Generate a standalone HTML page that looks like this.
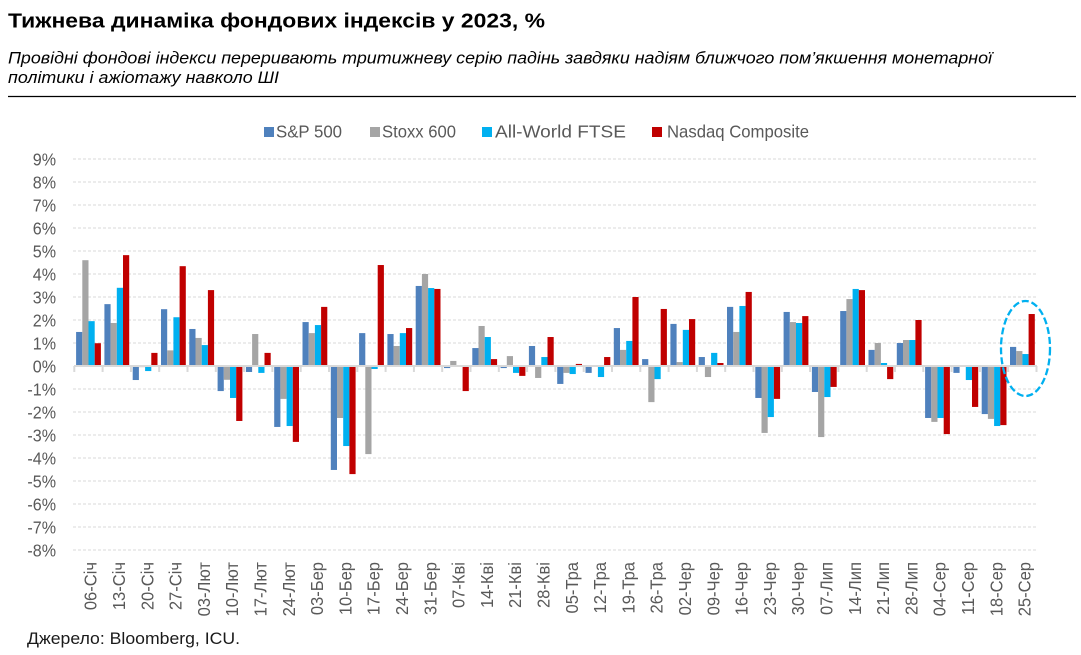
<!DOCTYPE html>
<html><head><meta charset="utf-8"><style>
html,body{margin:0;padding:0;background:#fff;}
svg{display:block;}
.a{fill:#4f81bd}.b{fill:#a5a5a5}.c{fill:#00b0f0}.d{fill:#c00000}
.t{font-family:"Liberation Sans","Noto Sans CJK SC",sans-serif;}
.yl{font-family:"Liberation Sans",sans-serif;font-size:17.5px;fill:#595959;text-anchor:end;}
.xl{font-family:"Liberation Sans","Noto Sans CJK SC",sans-serif;font-size:18px;fill:#595959;text-anchor:end;}
.g{stroke:#d9d9d9;stroke-width:1;stroke-dasharray:3,2;}
</style></head><body>
<svg width="1081" height="655" viewBox="0 0 1081 655" xmlns="http://www.w3.org/2000/svg">
<rect width="1081" height="655" fill="#fff"/>
<text class="t" x="8" y="27.5" font-size="20" font-weight="bold" fill="#000" textLength="537" lengthAdjust="spacingAndGlyphs">Тижнева динаміка фондових індексів у 2023, %</text>
<text class="t" x="8" y="63.3" font-size="17" font-style="italic" fill="#000" textLength="984" lengthAdjust="spacingAndGlyphs">Провідні фондові індекси переривають тритижневу серію падінь завдяки надіям ближчого пом’якшення монетарної</text>
<text class="t" x="8" y="83" font-size="17" font-style="italic" fill="#000" textLength="271" lengthAdjust="spacingAndGlyphs">політики і ажіотажу навколо ШІ</text>
<line x1="8" y1="96.5" x2="1076" y2="96.5" stroke="#000" stroke-width="1.3"/>

<!-- legend -->
<rect x="264" y="127" width="10" height="10" class="a"/>
<text class="t" x="276" y="137.7" font-size="17.5" fill="#595959" textLength="66" lengthAdjust="spacingAndGlyphs">S&amp;P 500</text>
<rect x="370" y="127" width="10" height="10" class="b"/>
<text class="t" x="382" y="137.7" font-size="17.5" fill="#595959" textLength="74" lengthAdjust="spacingAndGlyphs">Stoxx 600</text>
<rect x="482" y="127" width="10" height="10" class="c"/>
<text class="t" x="495" y="137.7" font-size="17.5" fill="#595959" textLength="131" lengthAdjust="spacingAndGlyphs">All-World FTSE</text>
<rect x="652" y="127" width="10" height="10" class="d"/>
<text class="t" x="667" y="137.7" font-size="17.5" fill="#595959" textLength="142" lengthAdjust="spacingAndGlyphs">Nasdaq Composite</text>

<!-- gridlines -->
<g class="g">
<line x1="73" y1="159" x2="1036.5" y2="159"/>
<line x1="73" y1="182" x2="1036.5" y2="182"/>
<line x1="73" y1="205" x2="1036.5" y2="205"/>
<line x1="73" y1="228" x2="1036.5" y2="228"/>
<line x1="73" y1="251" x2="1036.5" y2="251"/>
<line x1="73" y1="274" x2="1036.5" y2="274"/>
<line x1="73" y1="297" x2="1036.5" y2="297"/>
<line x1="73" y1="320" x2="1036.5" y2="320"/>
<line x1="73" y1="343" x2="1036.5" y2="343"/>
<line x1="73" y1="389" x2="1036.5" y2="389"/>
<line x1="73" y1="412" x2="1036.5" y2="412"/>
<line x1="73" y1="435" x2="1036.5" y2="435"/>
<line x1="73" y1="458" x2="1036.5" y2="458"/>
<line x1="73" y1="481" x2="1036.5" y2="481"/>
<line x1="73" y1="504" x2="1036.5" y2="504"/>
<line x1="73" y1="527" x2="1036.5" y2="527"/>
<line x1="73" y1="550" x2="1036.5" y2="550"/>
</g>

<!-- y labels -->
<g transform="translate(56,0) scale(0.92,1)">
<text class="yl" x="0" y="165.5">9%</text>
<text class="yl" x="0" y="188.5">8%</text>
<text class="yl" x="0" y="211.5">7%</text>
<text class="yl" x="0" y="234.5">6%</text>
<text class="yl" x="0" y="257.5">5%</text>
<text class="yl" x="0" y="280.5">4%</text>
<text class="yl" x="0" y="303.5">3%</text>
<text class="yl" x="0" y="326.5">2%</text>
<text class="yl" x="0" y="349.5">1%</text>
<text class="yl" x="0" y="372.5">0%</text>
<text class="yl" x="0" y="395.5">-1%</text>
<text class="yl" x="0" y="418.5">-2%</text>
<text class="yl" x="0" y="441.5">-3%</text>
<text class="yl" x="0" y="464.5">-4%</text>
<text class="yl" x="0" y="487.5">-5%</text>
<text class="yl" x="0" y="510.5">-6%</text>
<text class="yl" x="0" y="533.5">-7%</text>
<text class="yl" x="0" y="556.5">-8%</text>
</g>

<!-- bars -->
<g transform="translate(74.3,366) scale(1,-23)"><rect class="a" x="1.8" y="0" width="6.2" height="1.48"/><rect class="b" x="8" y="0" width="6.2" height="4.60"/><rect class="c" x="14.2" y="0" width="6.2" height="1.95"/><rect class="d" x="20.4" y="0" width="6.2" height="0.99"/></g>
<g transform="translate(102.6,366) scale(1,-23)"><rect class="a" x="1.8" y="0" width="6.2" height="2.69"/><rect class="b" x="8" y="0" width="6.2" height="1.87"/><rect class="c" x="14.2" y="0" width="6.2" height="3.40"/><rect class="d" x="20.4" y="0" width="6.2" height="4.82"/></g>
<g transform="translate(130.9,366) scale(1,-23)"><rect class="a" x="1.8" y="-0.61" width="6.2" height="0.61"/><rect class="b" x="8" y="-0.05" width="6.2" height="0.05"/><rect class="c" x="14.2" y="-0.22" width="6.2" height="0.22"/><rect class="d" x="20.4" y="0" width="6.2" height="0.57"/></g>
<g transform="translate(159.2,366) scale(1,-23)"><rect class="a" x="1.8" y="0" width="6.2" height="2.47"/><rect class="b" x="8" y="0" width="6.2" height="0.68"/><rect class="c" x="14.2" y="0" width="6.2" height="2.12"/><rect class="d" x="20.4" y="0" width="6.2" height="4.34"/></g>
<g transform="translate(187.5,366) scale(1,-23)"><rect class="a" x="1.8" y="0" width="6.2" height="1.61"/><rect class="b" x="8" y="0" width="6.2" height="1.22"/><rect class="c" x="14.2" y="0" width="6.2" height="0.91"/><rect class="d" x="20.4" y="0" width="6.2" height="3.30"/></g>
<g transform="translate(215.8,366) scale(1,-23)"><rect class="a" x="1.8" y="-1.09" width="6.2" height="1.09"/><rect class="b" x="8" y="-0.60" width="6.2" height="0.60"/><rect class="c" x="14.2" y="-1.39" width="6.2" height="1.39"/><rect class="d" x="20.4" y="-2.39" width="6.2" height="2.39"/></g>
<g transform="translate(244.1,366) scale(1,-23)"><rect class="a" x="1.8" y="-0.26" width="6.2" height="0.26"/><rect class="b" x="8" y="0" width="6.2" height="1.39"/><rect class="c" x="14.2" y="-0.30" width="6.2" height="0.30"/><rect class="d" x="20.4" y="0" width="6.2" height="0.57"/></g>
<g transform="translate(272.4,366) scale(1,-23)"><rect class="a" x="1.8" y="-2.65" width="6.2" height="2.65"/><rect class="b" x="8" y="-1.43" width="6.2" height="1.43"/><rect class="c" x="14.2" y="-2.61" width="6.2" height="2.61"/><rect class="d" x="20.4" y="-3.30" width="6.2" height="3.30"/></g>
<g transform="translate(300.7,366) scale(1,-23)"><rect class="a" x="1.8" y="0" width="6.2" height="1.91"/><rect class="b" x="8" y="0" width="6.2" height="1.43"/><rect class="c" x="14.2" y="0" width="6.2" height="1.78"/><rect class="d" x="20.4" y="0" width="6.2" height="2.57"/></g>
<g transform="translate(329,366) scale(1,-23)"><rect class="a" x="1.8" y="-4.52" width="6.2" height="4.52"/><rect class="b" x="8" y="-2.26" width="6.2" height="2.26"/><rect class="c" x="14.2" y="-3.48" width="6.2" height="3.48"/><rect class="d" x="20.4" y="-4.70" width="6.2" height="4.70"/></g>
<g transform="translate(357.3,366) scale(1,-23)"><rect class="a" x="1.8" y="0" width="6.2" height="1.43"/><rect class="b" x="8" y="-3.83" width="6.2" height="3.83"/><rect class="c" x="14.2" y="-0.13" width="6.2" height="0.13"/><rect class="d" x="20.4" y="0" width="6.2" height="4.39"/></g>
<g transform="translate(385.6,366) scale(1,-23)"><rect class="a" x="1.8" y="0" width="6.2" height="1.39"/><rect class="b" x="8" y="0" width="6.2" height="0.87"/><rect class="c" x="14.2" y="0" width="6.2" height="1.43"/><rect class="d" x="20.4" y="0" width="6.2" height="1.65"/></g>
<g transform="translate(413.9,366) scale(1,-23)"><rect class="a" x="1.8" y="0" width="6.2" height="3.48"/><rect class="b" x="8" y="0" width="6.2" height="4.00"/><rect class="c" x="14.2" y="0" width="6.2" height="3.39"/><rect class="d" x="20.4" y="0" width="6.2" height="3.35"/></g>
<g transform="translate(442.2,366) scale(1,-23)"><rect class="a" x="1.8" y="-0.09" width="6.2" height="0.09"/><rect class="b" x="8" y="0" width="6.2" height="0.22"/><rect class="c" x="14.2" y="-0.03" width="6.2" height="0.03"/><rect class="d" x="20.4" y="-1.09" width="6.2" height="1.09"/></g>
<g transform="translate(470.5,366) scale(1,-23)"><rect class="a" x="1.8" y="0" width="6.2" height="0.78"/><rect class="b" x="8" y="0" width="6.2" height="1.74"/><rect class="c" x="14.2" y="0" width="6.2" height="1.26"/><rect class="d" x="20.4" y="0" width="6.2" height="0.30"/></g>
<g transform="translate(498.8,366) scale(1,-23)"><rect class="a" x="1.8" y="-0.09" width="6.2" height="0.09"/><rect class="b" x="8" y="0" width="6.2" height="0.43"/><rect class="c" x="14.2" y="-0.30" width="6.2" height="0.30"/><rect class="d" x="20.4" y="-0.43" width="6.2" height="0.43"/></g>
<g transform="translate(527.1,366) scale(1,-23)"><rect class="a" x="1.8" y="0" width="6.2" height="0.87"/><rect class="b" x="8" y="-0.52" width="6.2" height="0.52"/><rect class="c" x="14.2" y="0" width="6.2" height="0.39"/><rect class="d" x="20.4" y="0" width="6.2" height="1.26"/></g>
<g transform="translate(555.4,366) scale(1,-23)"><rect class="a" x="1.8" y="-0.78" width="6.2" height="0.78"/><rect class="b" x="8" y="-0.30" width="6.2" height="0.30"/><rect class="c" x="14.2" y="-0.35" width="6.2" height="0.35"/><rect class="d" x="20.4" y="0" width="6.2" height="0.09"/></g>
<g transform="translate(583.7,366) scale(1,-23)"><rect class="a" x="1.8" y="-0.30" width="6.2" height="0.30"/><rect class="b" x="8" y="0" width="6.2" height="0.02"/><rect class="c" x="14.2" y="-0.48" width="6.2" height="0.48"/><rect class="d" x="20.4" y="0" width="6.2" height="0.39"/></g>
<g transform="translate(612,366) scale(1,-23)"><rect class="a" x="1.8" y="0" width="6.2" height="1.65"/><rect class="b" x="8" y="0" width="6.2" height="0.70"/><rect class="c" x="14.2" y="0" width="6.2" height="1.09"/><rect class="d" x="20.4" y="0" width="6.2" height="3.00"/></g>
<g transform="translate(640.3,366) scale(1,-23)"><rect class="a" x="1.8" y="0" width="6.2" height="0.30"/><rect class="b" x="8" y="-1.57" width="6.2" height="1.57"/><rect class="c" x="14.2" y="-0.57" width="6.2" height="0.57"/><rect class="d" x="20.4" y="0" width="6.2" height="2.48"/></g>
<g transform="translate(668.6,366) scale(1,-23)"><rect class="a" x="1.8" y="0" width="6.2" height="1.83"/><rect class="b" x="8" y="0" width="6.2" height="0.17"/><rect class="c" x="14.2" y="0" width="6.2" height="1.57"/><rect class="d" x="20.4" y="0" width="6.2" height="2.04"/></g>
<g transform="translate(696.9,366) scale(1,-23)"><rect class="a" x="1.8" y="0" width="6.2" height="0.39"/><rect class="b" x="8" y="-0.48" width="6.2" height="0.48"/><rect class="c" x="14.2" y="0" width="6.2" height="0.57"/><rect class="d" x="20.4" y="0" width="6.2" height="0.13"/></g>
<g transform="translate(725.2,366) scale(1,-23)"><rect class="a" x="1.8" y="0" width="6.2" height="2.57"/><rect class="b" x="8" y="0" width="6.2" height="1.48"/><rect class="c" x="14.2" y="0" width="6.2" height="2.61"/><rect class="d" x="20.4" y="0" width="6.2" height="3.22"/></g>
<g transform="translate(753.5,366) scale(1,-23)"><rect class="a" x="1.8" y="-1.39" width="6.2" height="1.39"/><rect class="b" x="8" y="-2.91" width="6.2" height="2.91"/><rect class="c" x="14.2" y="-2.22" width="6.2" height="2.22"/><rect class="d" x="20.4" y="-1.43" width="6.2" height="1.43"/></g>
<g transform="translate(781.8,366) scale(1,-23)"><rect class="a" x="1.8" y="0" width="6.2" height="2.35"/><rect class="b" x="8" y="0" width="6.2" height="1.91"/><rect class="c" x="14.2" y="0" width="6.2" height="1.87"/><rect class="d" x="20.4" y="0" width="6.2" height="2.17"/></g>
<g transform="translate(810.1,366) scale(1,-23)"><rect class="a" x="1.8" y="-1.13" width="6.2" height="1.13"/><rect class="b" x="8" y="-3.09" width="6.2" height="3.09"/><rect class="c" x="14.2" y="-1.35" width="6.2" height="1.35"/><rect class="d" x="20.4" y="-0.91" width="6.2" height="0.91"/></g>
<g transform="translate(838.4,366) scale(1,-23)"><rect class="a" x="1.8" y="0" width="6.2" height="2.39"/><rect class="b" x="8" y="0" width="6.2" height="2.91"/><rect class="c" x="14.2" y="0" width="6.2" height="3.35"/><rect class="d" x="20.4" y="0" width="6.2" height="3.30"/></g>
<g transform="translate(866.7,366) scale(1,-23)"><rect class="a" x="1.8" y="0" width="6.2" height="0.70"/><rect class="b" x="8" y="0" width="6.2" height="1.00"/><rect class="c" x="14.2" y="0" width="6.2" height="0.13"/><rect class="d" x="20.4" y="-0.57" width="6.2" height="0.57"/></g>
<g transform="translate(895,366) scale(1,-23)"><rect class="a" x="1.8" y="0" width="6.2" height="1.00"/><rect class="b" x="8" y="0" width="6.2" height="1.13"/><rect class="c" x="14.2" y="0" width="6.2" height="1.13"/><rect class="d" x="20.4" y="0" width="6.2" height="2.00"/></g>
<g transform="translate(923.3,366) scale(1,-23)"><rect class="a" x="1.8" y="-2.26" width="6.2" height="2.26"/><rect class="b" x="8" y="-2.43" width="6.2" height="2.43"/><rect class="c" x="14.2" y="-2.26" width="6.2" height="2.26"/><rect class="d" x="20.4" y="-2.96" width="6.2" height="2.96"/></g>
<g transform="translate(951.6,366) scale(1,-23)"><rect class="a" x="1.8" y="-0.30" width="6.2" height="0.30"/><rect class="b" x="8" y="0" width="6.2" height="0.01"/><rect class="c" x="14.2" y="-0.61" width="6.2" height="0.61"/><rect class="d" x="20.4" y="-1.78" width="6.2" height="1.78"/></g>
<g transform="translate(979.9,366) scale(1,-23)"><rect class="a" x="1.8" y="-2.09" width="6.2" height="2.09"/><rect class="b" x="8" y="-2.30" width="6.2" height="2.30"/><rect class="c" x="14.2" y="-2.61" width="6.2" height="2.61"/><rect class="d" x="20.4" y="-2.57" width="6.2" height="2.57"/></g>
<g transform="translate(1008.2,366) scale(1,-23)"><rect class="a" x="1.8" y="0" width="6.2" height="0.83"/><rect class="b" x="8" y="0" width="6.2" height="0.65"/><rect class="c" x="14.2" y="0" width="6.2" height="0.52"/><rect class="d" x="20.4" y="0" width="6.2" height="2.26"/></g>

<!-- axis -->
<line x1="74" y1="366" x2="1037" y2="366" stroke="#d9d9d9" stroke-width="2"/>
<g stroke="#d9d9d9" stroke-width="2">
<line x1="74.3" y1="366" x2="74.3" y2="372"/><line x1="102.6" y1="366" x2="102.6" y2="372"/><line x1="130.9" y1="366" x2="130.9" y2="372"/><line x1="159.2" y1="366" x2="159.2" y2="372"/><line x1="187.5" y1="366" x2="187.5" y2="372"/><line x1="215.8" y1="366" x2="215.8" y2="372"/><line x1="244.1" y1="366" x2="244.1" y2="372"/><line x1="272.4" y1="366" x2="272.4" y2="372"/><line x1="300.7" y1="366" x2="300.7" y2="372"/><line x1="329" y1="366" x2="329" y2="372"/><line x1="357.3" y1="366" x2="357.3" y2="372"/><line x1="385.6" y1="366" x2="385.6" y2="372"/><line x1="413.9" y1="366" x2="413.9" y2="372"/><line x1="442.2" y1="366" x2="442.2" y2="372"/><line x1="470.5" y1="366" x2="470.5" y2="372"/><line x1="498.8" y1="366" x2="498.8" y2="372"/><line x1="527.1" y1="366" x2="527.1" y2="372"/><line x1="555.4" y1="366" x2="555.4" y2="372"/><line x1="583.7" y1="366" x2="583.7" y2="372"/><line x1="612" y1="366" x2="612" y2="372"/><line x1="640.3" y1="366" x2="640.3" y2="372"/><line x1="668.6" y1="366" x2="668.6" y2="372"/><line x1="696.9" y1="366" x2="696.9" y2="372"/><line x1="725.2" y1="366" x2="725.2" y2="372"/><line x1="753.5" y1="366" x2="753.5" y2="372"/><line x1="781.8" y1="366" x2="781.8" y2="372"/><line x1="810.1" y1="366" x2="810.1" y2="372"/><line x1="838.4" y1="366" x2="838.4" y2="372"/><line x1="866.7" y1="366" x2="866.7" y2="372"/><line x1="895" y1="366" x2="895" y2="372"/><line x1="923.3" y1="366" x2="923.3" y2="372"/><line x1="951.6" y1="366" x2="951.6" y2="372"/><line x1="979.9" y1="366" x2="979.9" y2="372"/><line x1="1008.2" y1="366" x2="1008.2" y2="372"/><line x1="1036.5" y1="366" x2="1036.5" y2="372"/>
</g>

<!-- highlight ellipse -->
<ellipse cx="1025.5" cy="348.5" rx="24.5" ry="47.5" fill="none" stroke="#00b0f0" stroke-width="2.3" stroke-dasharray="7,3"/>

<!-- x labels -->
<text class="xl" transform="translate(96.7,562) rotate(-90) scale(0.92,1)">06-Січ</text>
<text class="xl" transform="translate(125,562) rotate(-90) scale(0.92,1)">13-Січ</text>
<text class="xl" transform="translate(153.3,562) rotate(-90) scale(0.92,1)">20-Січ</text>
<text class="xl" transform="translate(181.6,562) rotate(-90) scale(0.92,1)">27-Січ</text>
<text class="xl" transform="translate(209.9,562) rotate(-90) scale(0.92,1)">03-Лют</text>
<text class="xl" transform="translate(238.2,562) rotate(-90) scale(0.92,1)">10-Лют</text>
<text class="xl" transform="translate(266.5,562) rotate(-90) scale(0.92,1)">17-Лют</text>
<text class="xl" transform="translate(294.8,562) rotate(-90) scale(0.92,1)">24-Лют</text>
<text class="xl" transform="translate(323.1,562) rotate(-90) scale(0.92,1)">03-Бер</text>
<text class="xl" transform="translate(351.4,562) rotate(-90) scale(0.92,1)">10-Бер</text>
<text class="xl" transform="translate(379.7,562) rotate(-90) scale(0.92,1)">17-Бер</text>
<text class="xl" transform="translate(408,562) rotate(-90) scale(0.92,1)">24-Бер</text>
<text class="xl" transform="translate(436.3,562) rotate(-90) scale(0.92,1)">31-Бер</text>
<text class="xl" transform="translate(464.6,562) rotate(-90) scale(0.92,1)">07-Кві</text>
<text class="xl" transform="translate(492.9,562) rotate(-90) scale(0.92,1)">14-Кві</text>
<text class="xl" transform="translate(521.2,562) rotate(-90) scale(0.92,1)">21-Кві</text>
<text class="xl" transform="translate(549.5,562) rotate(-90) scale(0.92,1)">28-Кві</text>
<text class="xl" transform="translate(577.8,562) rotate(-90) scale(0.92,1)">05-Тра</text>
<text class="xl" transform="translate(606.1,562) rotate(-90) scale(0.92,1)">12-Тра</text>
<text class="xl" transform="translate(634.4,562) rotate(-90) scale(0.92,1)">19-Тра</text>
<text class="xl" transform="translate(662.7,562) rotate(-90) scale(0.92,1)">26-Тра</text>
<text class="xl" transform="translate(691,562) rotate(-90) scale(0.92,1)">02-Чер</text>
<text class="xl" transform="translate(719.3,562) rotate(-90) scale(0.92,1)">09-Чер</text>
<text class="xl" transform="translate(747.6,562) rotate(-90) scale(0.92,1)">16-Чер</text>
<text class="xl" transform="translate(775.9,562) rotate(-90) scale(0.92,1)">23-Чер</text>
<text class="xl" transform="translate(804.2,562) rotate(-90) scale(0.92,1)">30-Чер</text>
<text class="xl" transform="translate(832.5,562) rotate(-90) scale(0.92,1)">07-Лип</text>
<text class="xl" transform="translate(860.8,562) rotate(-90) scale(0.92,1)">14-Лип</text>
<text class="xl" transform="translate(889.1,562) rotate(-90) scale(0.92,1)">21-Лип</text>
<text class="xl" transform="translate(917.4,562) rotate(-90) scale(0.92,1)">28-Лип</text>
<text class="xl" transform="translate(945.7,562) rotate(-90) scale(0.92,1)">04-Сер</text>
<text class="xl" transform="translate(974,562) rotate(-90) scale(0.92,1)">11-Сер</text>
<text class="xl" transform="translate(1002.3,562) rotate(-90) scale(0.92,1)">18-Сер</text>
<text class="xl" transform="translate(1030.6,562) rotate(-90) scale(0.92,1)">25-Сер</text>

<!-- footer -->
<text class="t" x="27" y="644" font-size="17" fill="#1a1a1a" textLength="213" lengthAdjust="spacingAndGlyphs">Джерело: Bloomberg, ICU.</text>
</svg>
</body></html>
